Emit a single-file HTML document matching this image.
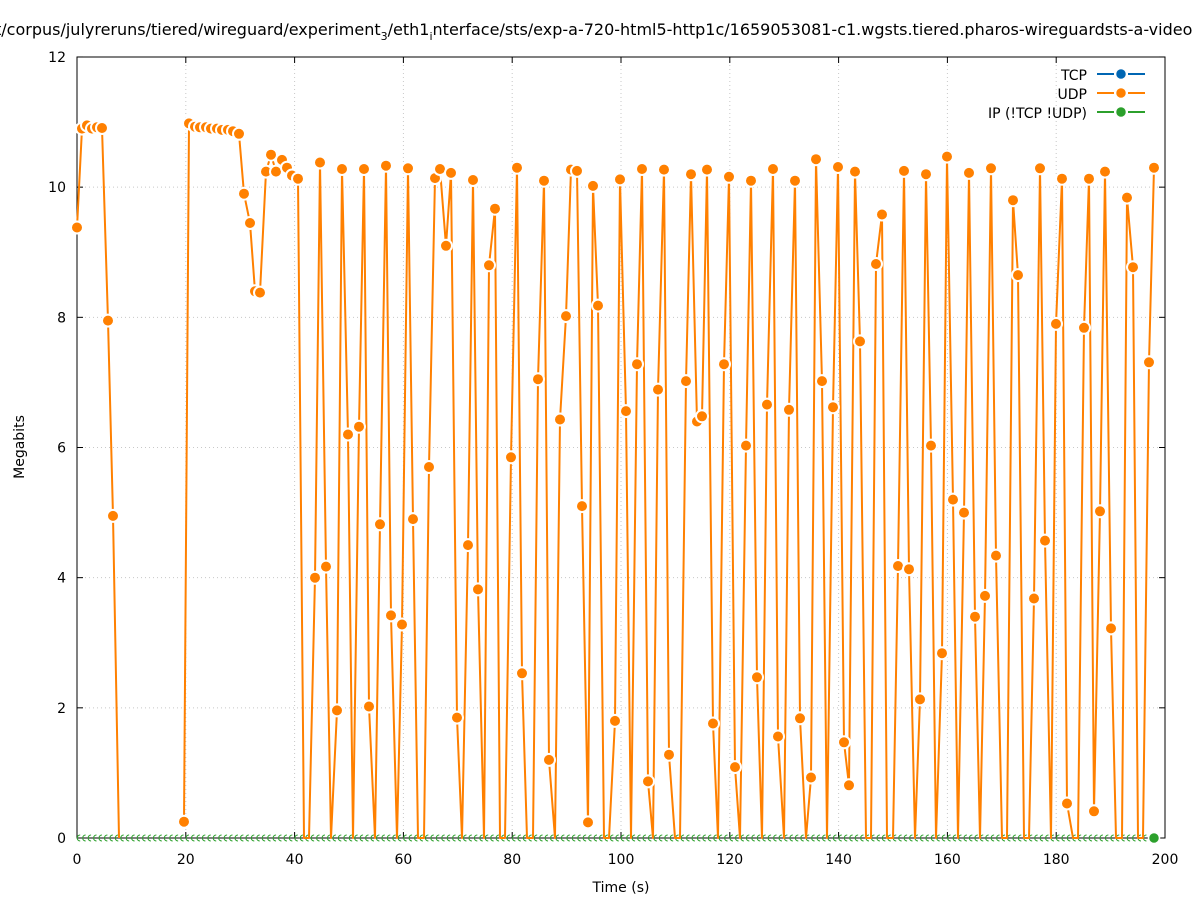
<!DOCTYPE html><html><head><style>body{margin:0;background:#fff}svg{display:block;font-family:"DejaVu Sans","Liberation Sans",sans-serif}</style></head><body>
<svg id="s" width="1197" height="900" viewBox="0 0 1197 900" xmlns="http://www.w3.org/2000/svg">
<rect width="1197" height="900" fill="#fff"/>
<g id="grid" stroke="#c8c8c8" stroke-width="1" stroke-dasharray="1,3"></g>
<g id="axes" stroke="#000" stroke-width="1" fill="none"><rect x="77" y="57" width="1088" height="781"/></g>
<g id="ticks" font-size="14" fill="#000"></g>
<text x="-5" y="35" font-size="16">t/corpus/julyreruns/tiered/wireguard/experiment<tspan font-size="11" dy="5">3</tspan><tspan dy="-5">/eth1</tspan><tspan font-size="11" dy="5">i</tspan><tspan dy="-5">nterface/sts/exp-a-720-html5-http1c/1659053081-c1.wgsts.tiered.pharos-wireguardsts-a-video</tspan></text>
<text transform="translate(24,447) rotate(-90)" font-size="14" text-anchor="middle">Megabits</text>
<text x="621" y="892" font-size="14" text-anchor="middle">Time (s)</text>
<g font-size="14" text-anchor="end">
<text x="1087" y="80">TCP</text><text x="1087" y="99">UDP</text><text x="1087" y="118">IP (!TCP  !UDP)</text>
</g>
<g stroke-width="2">
<path d="M1097,74H1114M1128,74H1145" stroke="#0066b3"/><circle cx="1121" cy="74" r="5.5" fill="#0066b3" stroke="#fff" stroke-width="1.5"/>
<path d="M1097,93H1114M1128,93H1145" stroke="#ff8000"/><circle cx="1121" cy="93" r="5.5" fill="#ff8000" stroke="#fff" stroke-width="1.5"/>
<path d="M1097,112H1114M1128,112H1145" stroke="#2ca02c"/><circle cx="1121" cy="112" r="5.5" fill="#2ca02c" stroke="#fff" stroke-width="1.5"/>
</g>
<g id="green"></g>
<g id="udp"></g>
</svg>
<script>
var NS="http://www.w3.org/2000/svg";
function el(p,t,a,txt){var e=document.createElementNS(NS,t);for(var k in a)e.setAttribute(k,a[k]);if(txt!==undefined)e.textContent=txt;document.getElementById(p).appendChild(e);return e;}
for(var i=0;i<=10;i++){var x=77+i*108.8;
 if(i>0&&i<10)el("grid","line",{x1:x,y1:57,x2:x,y2:838});
 el("ticks","line",{x1:x,y1:838,x2:x,y2:832,stroke:"#000"});el("ticks","line",{x1:x,y1:57,x2:x,y2:63,stroke:"#000"});
 el("ticks","text",{x:x,y:864,"text-anchor":"middle"},String(i*20));}
for(var i=0;i<=6;i++){var y=838-i*130.17;
 if(i>0&&i<6)el("grid","line",{x1:77,y1:y,x2:1165,y2:y});
 el("ticks","line",{x1:77,y1:y,x2:83,y2:y,stroke:"#000"});el("ticks","line",{x1:1165,y1:y,x2:1159,y2:y,stroke:"#000"});
 el("ticks","text",{x:66,y:y+5,"text-anchor":"end"},String(i*2));}
var d1=[[77,9.38],[82,10.9],[87,10.95],[92,10.9],[97,10.92],[102,10.91],[108,7.95],[113,4.95],[119,0]];
var d=[[184,0.25],[189,10.98],[195,10.93],[200,10.92],[206,10.92],[211,10.9],[217,10.9],[222,10.88],[228,10.88],[233,10.86],[239,10.82],[244,9.9],[250,9.45],[255,8.4],[260,8.38],[266,10.24],[271,10.5],[276,10.24],[282,10.42],[287,10.3],[292,10.18],[298,10.13],[304,0],[309,0],[315,4.0],[320,10.38],[326,4.17],[331,0],[337,1.96],[342,10.28],[348,6.2],[353,0],[359,6.32],[364,10.28],[369,2.02],[375,0],[380,4.82],[386,10.33],[391,3.42],[397,0],[402,3.28],[408,10.29],[413,4.9],[418,0],[424,0],[429,5.7],[435,10.14],[440,10.28],[446,9.1],[451,10.22],[457,1.85],[462,0],[468,4.5],[473,10.11],[478,3.82],[484,0],[489,8.8],[495,9.67],[500,0],[505,0],[511,5.85],[517,10.3],[522,2.53],[527,0],[533,0],[538,7.05],[544,10.1],[549,1.2],[555,0],[560,6.43],[566,8.02],[571,10.27],[577,10.25],[582,5.1],[588,0.24],[593,10.02],[598,8.18],[604,0],[609,0],[615,1.8],[620,10.12],[626,6.56],[631,0],[637,7.28],[642,10.28],[648,0.87],[653,0],[658,6.89],[664,10.27],[669,1.28],[675,0],[680,0],[686,7.02],[691,10.2],[697,6.4],[702,6.48],[707,10.27],[713,1.76],[718,0],[724,7.28],[729,10.16],[735,1.09],[740,0],[746,6.03],[751,10.1],[757,2.47],[762,0],[767,6.66],[773,10.28],[778,1.56],[784,0],[789,6.58],[795,10.1],[800,1.84],[806,0],[811,0.93],[816,10.43],[822,7.02],[827,0],[833,6.62],[838,10.31],[844,1.47],[849,0.81],[855,10.24],[860,7.63],[866,0],[871,0],[876,8.82],[882,9.58],[887,0],[893,0],[898,4.18],[904,10.25],[909,4.13],[915,0],[920,2.13],[926,10.2],[931,6.03],[936,0],[942,2.84],[947,10.47],[953,5.2],[958,0],[964,5.0],[969,10.22],[975,3.4],[980,0],[985,3.72],[991,10.29],[996,4.34],[1002,0],[1007,0],[1013,9.8],[1018,8.65],[1024,0],[1029,0],[1034,3.68],[1040,10.29],[1045,4.57],[1051,0],[1056,7.9],[1062,10.13],[1067,0.53],[1073,0],[1078,0],[1084,7.84],[1089,10.13],[1094,0.41],[1100,5.02],[1105,10.24],[1111,3.22],[1116,0],[1122,0],[1127,9.84],[1133,8.77],[1138,0],[1143,0],[1149,7.31],[1154,10.3]];
function Y(v){return 838-v*65.08;}
for(var x=79;x<1154;x+=5.44){el("green","path",{d:"M"+(x+1.2)+",835 A3,3 0 0 0 "+(x+1.2)+",841",stroke:"#2ca02c","stroke-width":1,fill:"none"});}
el("green","circle",{cx:1154,cy:838,r:5.5,fill:"#2ca02c",stroke:"#fff","stroke-width":1.5});
[d1,d].forEach(function(a){
var pts=a.map(function(p){return p[0]+","+Y(p[1]).toFixed(1)}).join(" ");
el("udp","polyline",{points:pts,fill:"none",stroke:"#ff8000","stroke-width":2,"stroke-linejoin":"round"});});
d1.concat(d).forEach(function(p){if(p[1]>0.1)el("udp","circle",{cx:p[0],cy:Y(p[1]).toFixed(1),r:6,fill:"#ff8000",stroke:"#fff","stroke-width":2});});
</script>
</body></html>
